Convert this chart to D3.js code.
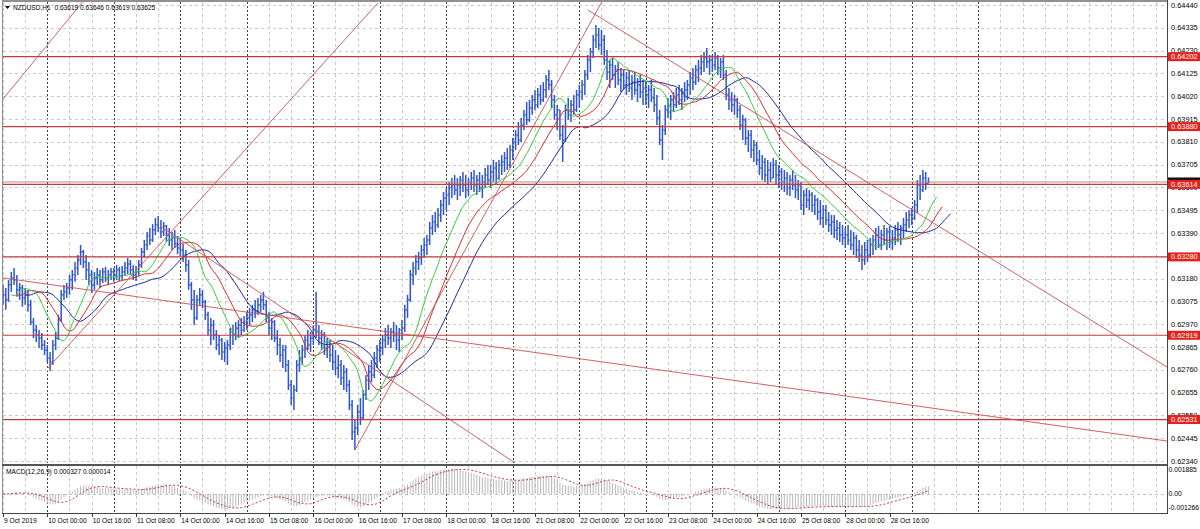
<!DOCTYPE html>
<html><head><meta charset="utf-8">
<script src="https://cdn.jsdelivr.net/npm/d3@7/dist/d3.min.js"></script>
<style>body{margin:0;background:#fff}svg{display:block;font-family:"Liberation Sans",Arial,sans-serif}</style>
</head><body><svg id="c" width="1200" height="529"></svg>
<script>
// ---------- DATA (NZDUSD H1, 9 Oct 2019 08:00 .. 29 Oct 2019 06:00) ----------
const firstOpen = .63128;
const high = [.63151,.63137,.63174,.63211,.63229,.63197,.63160,.63151,.63137,.63128,.63082,.62999,.62966,.62943,.62929,.62897,
.62874,.62842,.62897,.62934,.63013,.63128,.63151,.63160,.63197,.63220,.63257,.63289,.63335,.63312,.63289,.63257,.63220,.63211,.63229,.63220,.63229,.63234,.63220,.63229,
.63229,.63243,.63234,.63238,.63257,.63275,.63266,.63243,.63238,.63266,.63321,.63358,.63395,.63413,.63431,.63459,.63468,.63450,.63441,.63427,.63413,.63395,.63404,.63376,
.63367,.63340,.63312,.63266,.63165,.63128,.63105,.63137,.63128,.63082,.63027,.62999,.62989,.62943,.62920,.62906,.62888,.62897,.62952,.62966,.62980,.62989,.62999,.63008,
.63027,.63045,.63059,.63082,.63091,.63105,.63119,.63082,.63027,.62999,.62989,.62943,.62906,.62874,.62874,.62805,.62713,.62690,.62805,.62851,.62874,.62920,.62943,.62934,
.62966,.63119,.62966,.62943,.62934,.62906,.62897,.62874,.62851,.62828,.62805,.62782,.62768,.62713,.62621,.62529,.62598,.62630,.62667,.62736,.62782,.62805,.62842,.62874,
.62897,.62920,.62952,.62966,.62952,.62980,.62966,.62952,.62989,.63059,.63105,.63220,.63257,.63289,.63303,.63335,.63367,.63381,.63441,.63473,.63487,.63505,.63542,.63579,
.63597,.63625,.63643,.63657,.63643,.63652,.63671,.63657,.63643,.63671,.63680,.63657,.63671,.63657,.63689,.63703,.63703,.63726,.63717,.63726,.63749,.63763,.63781,.63795,
.63827,.63864,.63901,.63920,.63957,.63993,.64003,.64026,.64049,.64058,.64072,.64085,.64118,.64141,.64095,.64026,.63980,.63957,.63887,.63980,.64012,.64003,.64026,.64049,
.64072,.64095,.64141,.64210,.64242,.64302,.64348,.64334,.64325,.64302,.64233,.64187,.64196,.64164,.64178,.64150,.64141,.64131,.64141,.64118,.64131,.64104,.64118,.64095,
.64085,.64072,.64095,.64058,.64026,.63957,.63887,.63980,.64012,.64026,.64039,.64058,.64072,.64058,.64085,.64095,.64131,.64150,.64164,.64187,.64210,.64224,.64242,.64210,
.64210,.64224,.64210,.64196,.64210,.64141,.64058,.64039,.64026,.64012,.63980,.63934,.63920,.63864,.63864,.63818,.63809,.63772,.63749,.63735,.63726,.63717,.63735,.63726,
.63703,.63689,.63680,.63671,.63657,.63680,.63657,.63634,.63625,.63588,.63597,.63588,.63579,.63565,.63551,.63542,.63519,.63519,.63487,.63473,.63473,.63450,.63441,.63427,
.63413,.63427,.63404,.63395,.63381,.63358,.63335,.63349,.63358,.63367,.63381,.63413,.63422,.63404,.63427,.63413,.63422,.63404,.63427,.63441,.63427,.63459,.63487,.63496,
.63505,.63542,.63634,.63657,.63680,.63671,.63646];
const low = [.63059,.63036,.63073,.63119,.63151,.63096,.63082,.63050,.63059,.63027,.62966,.62906,.62888,.62860,.62851,.62828,
.62796,.62754,.62782,.62851,.62897,.62980,.63082,.63091,.63105,.63128,.63165,.63197,.63243,.63229,.63174,.63151,.63114,.63128,.63151,.63137,.63160,.63165,.63151,.63174,
.63165,.63174,.63169,.63174,.63192,.63201,.63197,.63174,.63169,.63192,.63229,.63275,.63312,.63335,.63349,.63381,.63395,.63367,.63376,.63349,.63330,.63312,.63321,.63293,
.63284,.63257,.63211,.63128,.63036,.62966,.62989,.63059,.63045,.62989,.62920,.62874,.62897,.62851,.62828,.62805,.62796,.62782,.62851,.62874,.62897,.62906,.62920,.62934,
.62943,.62966,.62980,.62999,.63013,.63027,.63036,.62980,.62920,.62897,.62888,.62828,.62796,.62768,.62750,.62667,.62598,.62575,.62658,.62750,.62782,.62814,.62851,.62842,
.62874,.62906,.62874,.62851,.62828,.62814,.62796,.62759,.62736,.62722,.62690,.62667,.62658,.62575,.62437,.62391,.62460,.62506,.62529,.62621,.62667,.62704,.62722,.62768,
.62796,.62828,.62860,.62874,.62860,.62888,.62851,.62842,.62897,.62934,.62999,.63073,.63151,.63197,.63220,.63243,.63275,.63289,.63335,.63381,.63395,.63413,.63441,.63473,
.63496,.63519,.63551,.63565,.63542,.63560,.63579,.63551,.63560,.63588,.63579,.63565,.63579,.63551,.63597,.63611,.63597,.63625,.63611,.63634,.63657,.63671,.63680,.63689,
.63726,.63772,.63795,.63809,.63864,.63887,.63901,.63934,.63957,.63966,.63980,.63993,.64012,.64049,.63966,.63911,.63864,.63818,.63717,.63809,.63911,.63901,.63934,.63947,
.63966,.64003,.64026,.64095,.64131,.64196,.64242,.64233,.64210,.64164,.64095,.64058,.64095,.64058,.64072,.64039,.64049,.64026,.64039,.64003,.64026,.63993,.64012,.63980,
.63980,.63966,.63993,.63947,.63887,.63795,.63726,.63841,.63920,.63911,.63947,.63966,.63980,.63957,.63993,.64003,.64026,.64049,.64072,.64085,.64118,.64131,.64150,.64118,
.64131,.64141,.64118,.64104,.64095,.64003,.63957,.63947,.63934,.63920,.63864,.63818,.63795,.63763,.63735,.63717,.63703,.63657,.63634,.63625,.63611,.63625,.63643,.63611,
.63597,.63588,.63579,.63565,.63560,.63588,.63551,.63542,.63496,.63473,.63505,.63496,.63487,.63473,.63450,.63427,.63413,.63427,.63395,.63381,.63367,.63358,.63349,.63335,
.63321,.63335,.63312,.63289,.63275,.63257,.63220,.63243,.63257,.63275,.63289,.63312,.63321,.63312,.63335,.63312,.63321,.63312,.63335,.63349,.63335,.63367,.63395,.63413,
.63427,.63450,.63482,.63542,.63579,.63588,.63619];
const close = [.63105,.63082,.63151,.63183,.63174,.63128,.63137,.63091,.63105,.63059,.62980,.62943,.62920,.62906,.62874,.62851,
.62814,.62796,.62874,.62906,.62989,.63105,.63119,.63137,.63174,.63197,.63229,.63266,.63303,.63257,.63220,.63197,.63151,.63183,.63197,.63174,.63211,.63183,.63197,.63211,
.63197,.63220,.63192,.63211,.63229,.63247,.63220,.63197,.63211,.63243,.63303,.63335,.63376,.63358,.63404,.63427,.63413,.63395,.63422,.63381,.63358,.63367,.63340,.63321,
.63312,.63289,.63243,.63151,.63082,.62999,.63082,.63105,.63073,.63013,.62943,.62966,.62920,.62874,.62897,.62842,.62860,.62874,.62934,.62920,.62952,.62966,.62943,.62980,
.62999,.63013,.63036,.63027,.63059,.63082,.63059,.62999,.62952,.62980,.62906,.62874,.62828,.62851,.62782,.62690,.62630,.62667,.62782,.62814,.62851,.62897,.62874,.62906,
.62943,.62934,.62906,.62920,.62860,.62888,.62828,.62796,.62768,.62782,.62722,.62750,.62690,.62598,.62474,.62492,.62566,.62538,.62644,.62713,.62750,.62736,.62814,.62851,
.62860,.62897,.62920,.62906,.62934,.62920,.62897,.62943,.62952,.63036,.63082,.63197,.63229,.63257,.63275,.63312,.63335,.63358,.63413,.63441,.63427,.63473,.63519,.63551,
.63565,.63597,.63611,.63588,.63611,.63634,.63611,.63588,.63625,.63643,.63611,.63634,.63597,.63625,.63657,.63634,.63671,.63689,.63643,.63703,.63717,.63735,.63703,.63772,
.63809,.63841,.63818,.63887,.63934,.63911,.63966,.64003,.63980,.64026,.64003,.64049,.64095,.64072,.64003,.63934,.63957,.63841,.63818,.63957,.63934,.63980,.63957,.64026,
.64039,.64072,.64118,.64187,.64224,.64279,.64302,.64256,.64279,.64187,.64131,.64164,.64118,.64141,.64095,.64118,.64072,.64104,.64058,.64085,.64049,.64072,.64039,.64058,
.64026,.64049,.64012,.63980,.63920,.63818,.63864,.63957,.63947,.64003,.63980,.64026,.64003,.64039,.64049,.64072,.64104,.64085,.64141,.64150,.64178,.64196,.64178,.64187,
.64164,.64196,.64150,.64178,.64118,.64026,.64003,.63980,.64003,.63957,.63887,.63911,.63827,.63841,.63772,.63795,.63726,.63689,.63717,.63657,.63680,.63643,.63703,.63657,
.63671,.63625,.63643,.63597,.63634,.63611,.63588,.63611,.63519,.63565,.63542,.63565,.63519,.63542,.63487,.63459,.63496,.63450,.63427,.63441,.63404,.63413,.63381,.63367,
.63381,.63358,.63335,.63367,.63312,.63289,.63266,.63312,.63289,.63335,.63358,.63381,.63335,.63381,.63358,.63395,.63349,.63367,.63404,.63381,.63413,.63427,.63450,.63473,
.63459,.63519,.63611,.63588,.63643,.63619,.63625];

const priceTicks = ["0.64440","0.64335","0.64230","0.64125","0.64020","0.63915","0.63810","0.63705","0.63600","0.63495","0.63390","0.63285","0.63180","0.63075","0.62970","0.62865","0.62760","0.62655","0.62550","0.62445","0.62340"];
const timeLabels = ["9 Oct 2019","10 Oct 00:00","10 Oct 16:00","11 Oct 08:00","14 Oct 00:00","14 Oct 16:00","15 Oct 08:00","16 Oct 00:00","16 Oct 16:00","17 Oct 08:00","18 Oct 00:00","18 Oct 16:00","21 Oct 08:00","22 Oct 00:00","22 Oct 16:00","23 Oct 08:00","24 Oct 00:00","24 Oct 16:00","25 Oct 08:00","28 Oct 00:00","28 Oct 16:00"];
const timeLabelBars = [0,16,32,48,64,80,96,112,128,144,160,176,192,208,224,240,256,272,288,304,320];
const daySeparatorBars = [16,40,64,88,112,136,160,184,208,232,256,280,304,328,352];
const levels = [.64202,.63880,.63614,.63280,.62919,.62531];
const levelLabels = ["0.64202","0.63880","0.63614","0.63280","0.62919","0.62531"];
const bidPrice = .63625;
// trend lines: [[bar, price],[bar, price]]
const trendLines = [
  [[0,.64007],[30,.64474]],
  [[16.2,.62768],[135.3,.64449]],
  [[127,.62391],[216.5,.64463]],
  [[211.1,.64417],[420.1,.62773]],
  [[56.7,.63422],[184.8,.62331]],
  [[0,.63183],[420.1,.62432]]
];
const macdTicks = [0.001885, 0, -0.001266];
const macdTickLabels = ["0.001885","0.00","-0.001266"];
const titleText = "NZDUSD,H1  0.63619 0.63646 0.63619 0.63625";
const macdText = "MACD(12,26,9) 0.000327 0.000014";

// ---------- LAYOUT ----------
const svg = d3.select("#c");
const PL=3, PR=1167, PT=2, PB=463, MT=466, MB=513;
const x = d3.scaleLinear().domain([0,420.1]).range([3,1167]);
const y = d3.scaleLinear().domain([0.62340,0.64440]).range([461,5]);
const ym = d3.scaleLinear().domain([-0.001266,0.001885]).range([512,467]);

const defs = svg.append("defs");
defs.append("clipPath").attr("id","cm").append("rect").attr("x",PL).attr("y",PT).attr("width",PR-PL).attr("height",PB-PT);
defs.append("clipPath").attr("id","cd").append("rect").attr("x",PL).attr("y",MT).attr("width",PR-PL).attr("height",MB-MT);

// grid
const grid = svg.append("g");
const gridBars = d3.range(0, 421, 8);
gridBars.forEach(b=>{
  const dark = daySeparatorBars.includes(b);
  [[PT,PB],[MT,MB]].forEach(([a,c])=>{
    grid.append("line").attr("x1",Math.round(x(b))+0.5).attr("x2",Math.round(x(b))+0.5).attr("y1",a).attr("y2",c)
      .attr("stroke",dark?"#404040":"#cacaca").attr("stroke-width",1).attr("stroke-dasharray",dark?"2,2":"3,3");
  });
});
priceTicks.forEach(t=>{
  const yy = Math.round(y(+t))+0.5;
  grid.append("line").attr("x1",PL).attr("x2",PR).attr("y1",yy).attr("y2",yy)
    .attr("stroke","#cacaca").attr("stroke-dasharray","3,3");
});
grid.append("line").attr("x1",PL).attr("x2",PR).attr("y1",Math.round(ym(0))+0.5).attr("y2",Math.round(ym(0))+0.5)
  .attr("stroke","#c0c0c0").attr("stroke-dasharray","3,3");

// price bars (OHLC)
const n = close.length;
const open = close.map((c,i)=> i===0 ? firstOpen : close[i-1]);
const bars = svg.append("g").attr("clip-path","url(#cm)").attr("stroke","#2f55cc").attr("stroke-width",1.5);
for(let i=0;i<n;i++){
  const xx = x(i);
  bars.append("line").attr("x1",xx).attr("x2",xx).attr("y1",y(high[i])).attr("y2",y(low[i]));
  bars.append("line").attr("x1",xx-1.4).attr("x2",xx).attr("y1",y(open[i])).attr("y2",y(open[i])).attr("stroke-width",1.1);
  bars.append("line").attr("x1",xx).attr("x2",xx+1.4).attr("y1",y(close[i])).attr("y2",y(close[i])).attr("stroke-width",1.1);
}

// Alligator (SMMA of median price, shifted forward)
const median = high.map((h,i)=>(h+low[i])/2);
function smma(arr,p){const o=[];arr.forEach((v,i)=>{o.push(i===0?v:(o[i-1]*(p-1)+v)/p);});return o;}
const gators = [
  {p:13, s:8, c:"#1f2a9c"},
  {p:8, s:5, c:"#d42f2f"},
  {p:5, s:3, c:"#3fcc3f"}
];
const lineGen = d3.line().x(d=>x(d[0])).y(d=>y(d[1]));
const ind = svg.append("g").attr("clip-path","url(#cm)").attr("fill","none");
gators.forEach(g=>{
  const v = smma(median,g.p).map((val,i)=>[i+g.s,val]);
  ind.append("path").attr("d",lineGen(v)).attr("stroke",g.c).attr("stroke-width",1);
});

// horizontal levels + trend lines
const lv = svg.append("g").attr("clip-path","url(#cm)");
lv.append("line").attr("x1",PL).attr("x2",PR).attr("y1",y(bidPrice)).attr("y2",y(bidPrice)).attr("stroke","#b08a8a").attr("stroke-width",1);
levels.forEach(v=>{
  lv.append("line").attr("x1",PL).attr("x2",PR).attr("y1",y(v)).attr("y2",y(v)).attr("stroke","#c73a3a").attr("stroke-width",1.2);
});
trendLines.forEach(t=>{
  lv.append("line").attr("x1",x(t[0][0])).attr("y1",y(t[0][1])).attr("x2",x(t[1][0])).attr("y2",y(t[1][1]))
    .attr("stroke","#c85050").attr("stroke-width",0.9);
});

// MACD (12,26,9): histogram = main, dotted = signal
function ema(arr,p){const k=2/(p+1);const o=[];arr.forEach((v,i)=>{o.push(i===0?v:v*k+o[i-1]*(1-k));});return o;}
const e12=ema(close,12), e26=ema(close,26);
const macd = close.map((c,i)=>e12[i]-e26[i]);
const signal = macd.map((m,i)=>d3.mean(macd.slice(Math.max(0,i-8),i+1)));
const mg = svg.append("g").attr("clip-path","url(#cd)");
macd.forEach((m,i)=>{
  mg.append("line").attr("x1",x(i)).attr("x2",x(i)).attr("y1",ym(0)).attr("y2",ym(m)).attr("stroke","#b8b8b8").attr("stroke-width",1);
});
mg.append("path").attr("d",d3.line().x((d,i)=>x(i)).y(d=>ym(d))(signal)).attr("fill","none")
  .attr("stroke","#c03a3a").attr("stroke-width",1).attr("stroke-dasharray","2,2");

// frame
const fr = svg.append("g").attr("fill","none");
fr.append("line").attr("x1",2).attr("x2",PR).attr("y1",1).attr("y2",1).attr("stroke","#909090").attr("stroke-width",2);
fr.append("line").attr("x1",2.5).attr("x2",2.5).attr("y1",0).attr("y2",MB).attr("stroke","#909090");
fr.append("line").attr("x1",PR+0.5).attr("x2",PR+0.5).attr("y1",0).attr("y2",MB+0.5).attr("stroke","#444");
fr.append("line").attr("x1",2).attr("x2",PR).attr("y1",465).attr("y2",465).attr("stroke","#555").attr("stroke-width",2);
fr.append("line").attr("x1",2).attr("x2",PR+1).attr("y1",MB+0.5).attr("y2",MB+0.5).attr("stroke","#444");

// price axis labels
const ax = svg.append("g").attr("font-size","7.4px").attr("fill","#000");
priceTicks.forEach(t=>{
  ax.append("text").attr("x",1171).attr("y",y(+t)).attr("dy","0.35em").text(t);
});
ax.append("rect").attr("x",1168).attr("y",y(bidPrice)-4.5).attr("width",32).attr("height",9).attr("fill","#111");
ax.append("text").attr("x",1171).attr("y",y(bidPrice)).attr("dy","0.35em").attr("fill","#fff").text("0.63625");
levels.forEach((v,i)=>{
  ax.append("rect").attr("x",1168).attr("y",y(v)-4.5).attr("width",32).attr("height",9).attr("fill","#e3221c");
  ax.append("text").attr("x",1171).attr("y",y(v)).attr("dy","0.35em").attr("fill","#fff").text(levelLabels[i]);
});
// macd axis labels
const mx = svg.append("g").attr("font-size","6.8px").attr("fill","#000");
macdTicks.forEach((v,i)=>{
  const yy = i===0 ? ym(v)+3 : (i===2 ? ym(v)-4 : ym(v));
  mx.append("text").attr("x",1168.5).attr("y",yy).attr("dy","0.35em").text(macdTickLabels[i]);
});

// time axis
const tx = svg.append("g").attr("font-size","6.7px").attr("fill","#000");
timeLabelBars.forEach((b,i)=>{
  const xx = Math.round(x(b))+0.5;
  tx.append("line").attr("x1",xx).attr("x2",xx).attr("y1",MB).attr("y2",MB+4).attr("stroke","#333");
  tx.append("text").attr("x",x(b)+1).attr("y",523).text(timeLabels[i]);
});

// titles
svg.append("path").attr("d","M5,6 L10,6 L7.5,9 Z").attr("fill","#000");
svg.append("text").attr("x",13).attr("y",10).attr("font-size","6.6px").style("white-space","pre").text(titleText);
svg.append("text").attr("x",6).attr("y",474).attr("font-size","6.6px").text(macdText);
</script></body></html>
